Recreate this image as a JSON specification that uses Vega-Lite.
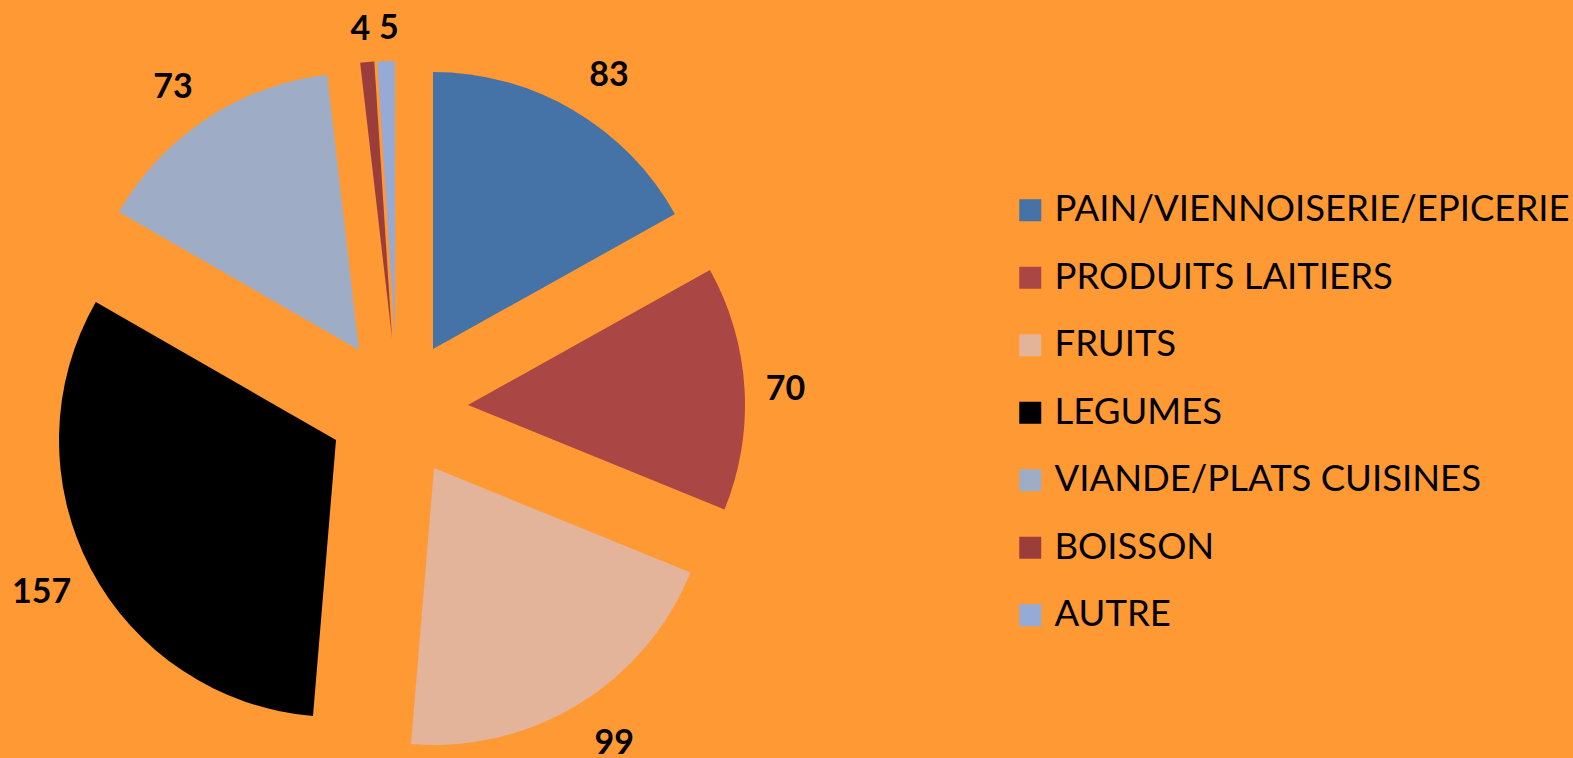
{
  "$schema": "https://vega.github.io/schema/vega-lite/v6.json",
  "width": 796,
  "height": 700,
  "autosize": "none",
  "padding": {"left": 0, "top": 58, "right": 777, "bottom": 0},
  "background": "#FF9933",
  "config": {"view": {"stroke": null}},
  "data": {"values": [
    {"cat": "PAIN/VIENNOISERIE/EPICERIE", "value": 83, "idx": 1},
    {"cat": "PRODUITS LAITIERS", "value": 70, "idx": 2},
    {"cat": "FRUITS", "value": 99, "idx": 3},
    {"cat": "LEGUMES", "value": 157, "idx": 4},
    {"cat": "VIANDE/PLATS CUISINES", "value": 73, "idx": 5},
    {"cat": "BOISSON", "value": 4, "idx": 6},
    {"cat": "AUTRE", "value": 5, "idx": 7}
  ]},
  "encoding": {
    "theta": {"field": "value", "type": "quantitative", "stack": true},
    "order": {"field": "idx", "type": "quantitative"}
  },
  "layer": [
    {"mark": {"type": "arc", "radius": 277, "xOffset": 35, "yOffset": -59},
     "encoding": {"color": {"field": "cat", "type": "nominal", "scale": {"domain": ["PAIN/VIENNOISERIE/EPICERIE", "PRODUITS LAITIERS", "FRUITS", "LEGUMES", "VIANDE/PLATS CUISINES", "BOISSON", "AUTRE"], "range": ["#4572A7", "#AA4643", "#E3B39A", "#000000", "#9EADC5", "#9B3D3A", "#95AAD5"]},
       "legend": {"title": null, "orient": "none", "legendX": 1012, "legendY": 134, "symbolType": "square", "symbolSize": 484, "symbolStrokeWidth": 0, "labelFontSize": 36.5, "labelFont": "Lato", "labelColor": "#000000", "labelLimit": 1000, "rowPadding": 30.5, "labelOffset": 6, "padding": 0}},
       "opacity": {"condition": {"test": "datum.cat === 'PAIN/VIENNOISERIE/EPICERIE'", "value": 1}, "value": 0}}},
    {"mark": {"type": "arc", "radius": 277, "xOffset": 70, "yOffset": -3},
     "encoding": {"color": {"field": "cat", "type": "nominal"},
       "opacity": {"condition": {"test": "datum.cat === 'PRODUITS LAITIERS'", "value": 1}, "value": 0}}},
    {"mark": {"type": "arc", "radius": 277, "xOffset": 36, "yOffset": 60},
     "encoding": {"color": {"field": "cat", "type": "nominal"},
       "opacity": {"condition": {"test": "datum.cat === 'FRUITS'", "value": 1}, "value": 0}}},
    {"mark": {"type": "arc", "radius": 277, "xOffset": -62, "yOffset": 32},
     "encoding": {"color": {"field": "cat", "type": "nominal"},
       "opacity": {"condition": {"test": "datum.cat === 'LEGUMES'", "value": 1}, "value": 0}}},
    {"mark": {"type": "arc", "radius": 277, "xOffset": -39, "yOffset": -58},
     "encoding": {"color": {"field": "cat", "type": "nominal"},
       "opacity": {"condition": {"test": "datum.cat === 'VIANDE/PLATS CUISINES'", "value": 1}, "value": 0}}},
    {"mark": {"type": "arc", "radius": 277, "xOffset": -6, "yOffset": -70},
     "encoding": {"color": {"field": "cat", "type": "nominal"},
       "opacity": {"condition": {"test": "datum.cat === 'BOISSON'", "value": 1}, "value": 0}}},
    {"mark": {"type": "arc", "radius": 277, "xOffset": -3, "yOffset": -70},
     "encoding": {"color": {"field": "cat", "type": "nominal"},
       "opacity": {"condition": {"test": "datum.cat === 'AUTRE'", "value": 1}, "value": 0}}},
    {"mark": {"type": "text", "radius": 320, "xOffset": 49, "yOffset": -56, "font": "Lato", "fontSize": 34, "fontWeight": "bold", "color": "#000000"},
     "encoding": {"text": {"field": "value"}, "opacity": {"condition": {"test": "datum.cat === 'PAIN/VIENNOISERIE/EPICERIE'", "value": 1}, "value": 0}}},
    {"mark": {"type": "text", "radius": 320, "xOffset": 68, "yOffset": 1, "font": "Lato", "fontSize": 34, "fontWeight": "bold", "color": "#000000"},
     "encoding": {"text": {"field": "value"}, "opacity": {"condition": {"test": "datum.cat === 'PRODUITS LAITIERS'", "value": 1}, "value": 0}}},
    {"mark": {"type": "text", "radius": 320, "xOffset": 49, "yOffset": 63, "font": "Lato", "fontSize": 34, "fontWeight": "bold", "color": "#000000"},
     "encoding": {"text": {"field": "value"}, "opacity": {"condition": {"test": "datum.cat === 'FRUITS'", "value": 1}, "value": 0}}},
    {"mark": {"type": "text", "radius": 320, "xOffset": -73, "yOffset": 36, "font": "Lato", "fontSize": 34, "fontWeight": "bold", "color": "#000000"},
     "encoding": {"text": {"field": "value"}, "opacity": {"condition": {"test": "datum.cat === 'LEGUMES'", "value": 1}, "value": 0}}},
    {"mark": {"type": "text", "radius": 320, "xOffset": -49, "yOffset": -53, "font": "Lato", "fontSize": 34, "fontWeight": "bold", "color": "#000000"},
     "encoding": {"text": {"field": "value"}, "opacity": {"condition": {"test": "datum.cat === 'VIANDE/PLATS CUISINES'", "value": 1}, "value": 0}}},
    {"mark": {"type": "text", "radius": 320, "xOffset": -9, "yOffset": -59, "font": "Lato", "fontSize": 34, "fontWeight": "bold", "color": "#000000"},
     "encoding": {"text": {"field": "value"}, "opacity": {"condition": {"test": "datum.cat === 'BOISSON'", "value": 1}, "value": 0}}},
    {"mark": {"type": "text", "radius": 320, "xOffset": 1, "yOffset": -59, "font": "Lato", "fontSize": 34, "fontWeight": "bold", "color": "#000000"},
     "encoding": {"text": {"field": "value"}, "opacity": {"condition": {"test": "datum.cat === 'AUTRE'", "value": 1}, "value": 0}}}
  ]
}
